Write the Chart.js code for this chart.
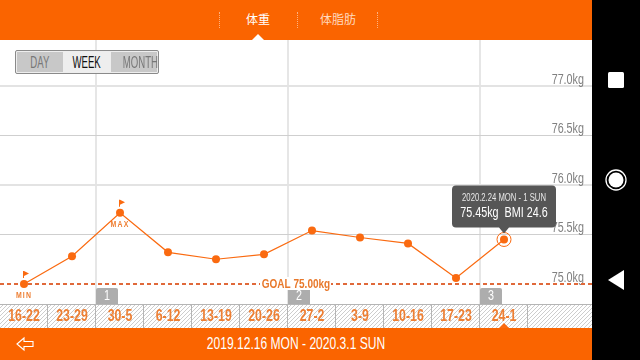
<!DOCTYPE html>
<html>
<head>
<meta charset="utf-8">
<script src="https://cdn.jsdelivr.net/npm/chart.js@4"></script>
<style>
html, body { margin: 0; padding: 0; background: #fff; }
body { width: 640px; height: 360px; overflow: hidden; position: relative; font-family: "Liberation Sans", sans-serif; }
#wrap { position: absolute; left: 0; top: 0; width: 640px; height: 360px; }
.header { position: absolute; left: 0; top: 0; width: 592px; height: 40px; background: #fa6400; }
.tab { position: absolute; top: 11px; font: 12px "Noto Sans CJK JP", sans-serif; line-height: 16px; transform: translateX(-50%); }
.sep { position: absolute; top: 12px; height: 16px; border-left: 1px dotted #fdb27f; }
.notch { position: absolute; left: 252px; top: 34px; width: 0; height: 0; border-left: 6px solid transparent; border-right: 6px solid transparent; border-bottom: 6px solid #fff; }
.footer { position: absolute; left: 0; top: 328px; width: 592px; height: 32px; background: #fa6400; }
.range { position: absolute; left: 296px; top: 7px; transform: translateX(-50%) scaleX(0.71); color: #fff; font-size: 17px; line-height: 18px; white-space: nowrap; }
.nav { position: absolute; left: 592px; top: 0; width: 48px; height: 360px; background: #000; }
.switch { position: absolute; left: 15px; top: 50px; width: 142px; height: 22px; border: 1px solid #8a8a8a; border-radius: 2px; background: #eee; display: flex; }
.switch div { height: 20px; margin: 1px 0; background: #c8c8c8; text-align: center; }
.switch span { display: inline-block; transform: scaleX(0.6); font-size: 16px; line-height: 21px; color: #777; white-space: nowrap; }
.switch .on { background: #eee; }
.switch .on span { color: #111; }
</style>
</head>
<body>
<div id="wrap"><canvas id="weightChart" width="640" height="360"></canvas></div>

<div class="header">
  <div class="sep" style="left:219px"></div>
  <div class="tab" style="left:258px;color:#fff">体重</div>
  <div class="sep" style="left:297px"></div>
  <div class="tab" style="left:338px;color:#ffd9bf">体脂肪</div>
  <div class="sep" style="left:377px"></div>
  <div class="notch"></div>
</div>

<div class="switch">
  <div style="width:46px;margin-left:1px"><span>DAY</span></div>
  <div class="on" style="width:48px"><span>WEEK</span></div>
  <div style="width:46px"><span>MONTH</span></div>
</div>

<div class="footer">
  <svg style="position:absolute;left:16px;top:8px" width="19" height="16" viewBox="0 0 19 16">
    <path d="M1 8 L8 2 V5.5 H17 V10.5 H8 V14 Z" fill="none" stroke="#fff" stroke-width="1.1"/>
  </svg>
  <div class="range">2019.12.16 MON - 2020.3.1 SUN</div>
</div>

<div class="nav">
  <svg width="48" height="360">
    <rect x="16" y="72" width="16" height="16" rx="1.5" fill="#fff"/>
    <circle cx="24" cy="180" r="10" fill="none" stroke="#fff" stroke-width="1.3"/>
    <circle cx="24" cy="180" r="7.5" fill="#fff"/>
    <path d="M16 280 L32 270 V290 Z" fill="#fff"/>
  </svg>
</div>

<script>
/* Weekly weight data */

const weekLabels = ["16-22", "23-29", "30-5", "6-12", "13-19", "20-26", "27-2", "3-9", "10-16", "17-23", "24-1"];
const weights = [75.0, 75.28, 75.72, 75.32, 75.25, 75.3, 75.54, 75.47, 75.41, 75.06, 75.45];
const yTicks = [75.0, 75.5, 76.0, 76.5, 77.0];
const goalWeight = 75.0;
const monthStarts = [1.5, 5.5, 9.5];
const monthNames = ["1", "2", "3"];
const minIndex = 0;
const maxIndex = 2;
const selectedIndex = 10;

const orange = "#fa6a10";
const fontName = '"Liberation Sans", sans-serif';

function hatchPattern(ctx) {
    const c = document.createElement("canvas");
    c.width = 4;
    c.height = 4;
    const p = c.getContext("2d");
    p.fillStyle = "#fff";
    p.fillRect(0, 0, 4, 4);
    p.strokeStyle = "#cdcdcd";
    p.lineWidth = 1;
    p.beginPath();
    p.moveTo(-1, 5); p.lineTo(5, -1);
    p.moveTo(-1, 1); p.lineTo(1, -1);
    p.moveTo(3, 5); p.lineTo(5, 3);
    p.stroke();
    return ctx.createPattern(c, "repeat");
}

/* Things the axes can't do: hatched week row, month lines, flags, tooltip */

const backdropPlugin = {
    id: "backdrop",
    beforeDraw(chart) {
        const { ctx, chartArea, scales } = chart;
        const x = scales.x;
        const bottom = chartArea.bottom;

        ctx.save();
        ctx.fillStyle = hatchPattern(ctx);
        ctx.fillRect(chartArea.left, bottom, chartArea.width, 24);
        ctx.fillStyle = "#b5b5b5";
        ctx.fillRect(chartArea.left, bottom, chartArea.width, 1);

        weekLabels.forEach((label, i) => {
            const right = x.getPixelForValue(i + 0.5);
            ctx.fillStyle = "#b5b5b5";
            ctx.fillRect(right - 1, bottom, 1, 24);
        });

        // month lines
        ctx.fillStyle = "#e6e6e6";
        monthStarts.forEach(value => {
            ctx.fillRect(Math.round(x.getPixelForValue(value)) - 1, chartArea.top, 2, bottom - chartArea.top);
        });
        ctx.restore();
    },
    afterDatasetsDraw(chart) {
        const { ctx, chartArea, scales } = chart;
        const x = scales.x;
        const y = scales.y;
        const bottom = chartArea.bottom;

        ctx.save();
        ctx.textAlign = "center";
        ctx.textBaseline = "middle";

        // month badges
        monthStarts.forEach((value, i) => {
            const left = Math.round(x.getPixelForValue(value));
            ctx.fillStyle = "#adadad";
            ctx.beginPath();
            ctx.roundRect(left, bottom - 16, 22, 16, [2, 2, 0, 0]);
            ctx.fill();
            ctx.fillStyle = "#fff";
            ctx.font = "14px " + fontName;
            ctx.fillText(monthNames[i], left + 11, bottom - 8);
        });

        // goal label sits on the dashed line
        const goalY = y.getPixelForValue(goalWeight);
        ctx.fillStyle = "#fff";
        ctx.fillRect(260, goalY - 7, 71, 13);
        ctx.fillStyle = "#e8792c";
        ctx.font = "bold 13px " + fontName;
        ctx.fillText("GOAL 75.00kg", 296, goalY);

        // min and max flags
        [[minIndex, "MIN"], [maxIndex, "MAX"]].forEach(([index, text]) => {
            const px = x.getPixelForValue(index);
            const py = y.getPixelForValue(weights[index]);
            ctx.fillStyle = orange;
            ctx.fillRect(px - 1, py - 13, 1, 7);
            ctx.beginPath();
            ctx.moveTo(px, py - 13);
            ctx.lineTo(px + 5, py - 10.5);
            ctx.lineTo(px, py - 8);
            ctx.fill();
            ctx.font = "bold 9px " + fontName;
            ctx.letterSpacing = "1.5px";
            ctx.fillStyle = "#ee7f33";
            ctx.fillText(text, px, py + 12);
            ctx.letterSpacing = "0px";
        });

        // week marker for the selected column
        const selX = x.getPixelForValue(selectedIndex);
        ctx.fillStyle = orange;
        ctx.beginPath();
        ctx.moveTo(selX - 5, 328);
        ctx.lineTo(selX, 323);
        ctx.lineTo(selX + 5, 328);
        ctx.fill();

        // tooltip of the selected point
        const selY = y.getPixelForValue(weights[selectedIndex]);
        ctx.fillStyle = "#565656";
        ctx.beginPath();
        ctx.roundRect(selX - 52, selY - 54, 104, 42, 4);
        ctx.moveTo(selX - 5, selY - 12);
        ctx.lineTo(selX, selY - 6);
        ctx.lineTo(selX + 5, selY - 12);
        ctx.fill();
        ctx.fillStyle = "#e8e8e8";
        ctx.font = "10px " + fontName;
        ctx.fillText("2020.2.24 MON - 1 SUN", selX, selY - 41);
        ctx.fillStyle = "#fff";
        ctx.font = "14px " + fontName;
        ctx.fillText("75.45kg  BMI 24.6", selX, selY - 26);
        ctx.restore();
    }
};

const weightChartCanvas = document.querySelector("#weightChart");

/* No narrow font installed, so squeeze all canvas text to look like the DIN labels */
const chartCtx = weightChartCanvas.getContext("2d");
const plainFillText = chartCtx.fillText;
chartCtx.fillText = function (text, px, py) {
    this.save();
    this.translate(px, py);
    this.scale(0.77, 1);
    plainFillText.call(this, text, 0, 0);
    this.restore();
};

const weightChart = new Chart(weightChartCanvas, {
    type: "line",
    data: {
        datasets: [
            {
                label: "Goal",
                data: [{ x: -0.5, y: goalWeight }, { x: 11.8333, y: goalWeight }],
                borderColor: "#e0693a",
                borderWidth: 2,
                borderDash: [4, 3],
                pointRadius: 0,
                order: 3
            },
            {
                label: "Weight",
                data: weights.map((w, i) => ({ x: i, y: w })),
                borderColor: orange,
                backgroundColor: orange,
                borderWidth: 1.2,
                tension: 0,
                pointRadius: 4,
                pointBorderWidth: 0,
                order: 1
            },
            {
                label: "Selected",
                data: [{ x: selectedIndex, y: weights[selectedIndex] }],
                showLine: false,
                pointRadius: 7,
                pointBackgroundColor: "rgba(0,0,0,0)",
                pointBorderColor: orange,
                pointBorderWidth: 1,
                order: 2
            }
        ]
    },
    options: {
        responsive: false,
        animation: false,
        events: [],
        layout: {
            autoPadding: false,
            padding: { left: 0, right: 48, top: 40, bottom: 32 }
        },
        plugins: {
            legend: { display: false },
            tooltip: { enabled: false }
        },
        scales: {
            x: {
                type: "linear",
                min: -0.5,
                max: 11.8333,
                border: { display: false },
                grid: { display: false, drawTicks: false, tickLength: 0 },
                afterBuildTicks: scale => {
                    scale.ticks = weekLabels.map((label, i) => ({ value: i }));
                },
                afterFit: scale => {
                    scale.height = 24;
                },
                ticks: {
                    autoSkip: false,
                    maxRotation: 0,
                    padding: 3,
                    color: "#ee7f33",
                    font: { family: fontName, size: 16, weight: "bold" },
                    callback: value => weekLabels[value]
                }
            },
            y: {
                position: "right",
                min: 74.798,
                max: 77.465,
                border: { display: false },
                afterBuildTicks: scale => {
                    scale.ticks = yTicks.map(v => ({ value: v }));
                },
                afterFit: scale => {
                    scale.width = 0;
                },
                grid: {
                    drawTicks: false,
                    color: ctx => ctx.tick && ctx.tick.value === goalWeight ? "rgba(0,0,0,0)"
                        : (ctx.tick && ctx.tick.value % 1 === 0 ? "#e3e3e3" : "#cfcfcf"),
                    lineWidth: ctx => ctx.tick && ctx.tick.value % 1 === 0 ? 2 : 1
                },
                ticks: {
                    mirror: true,
                    padding: -8,
                    labelOffset: -6,
                    color: "#808080",
                    font: { family: fontName, size: 14 },
                    callback: value => value.toFixed(1) + "kg"
                }
            }
        }
    },
    plugins: [backdropPlugin]
});
</script>
</body>
</html>
